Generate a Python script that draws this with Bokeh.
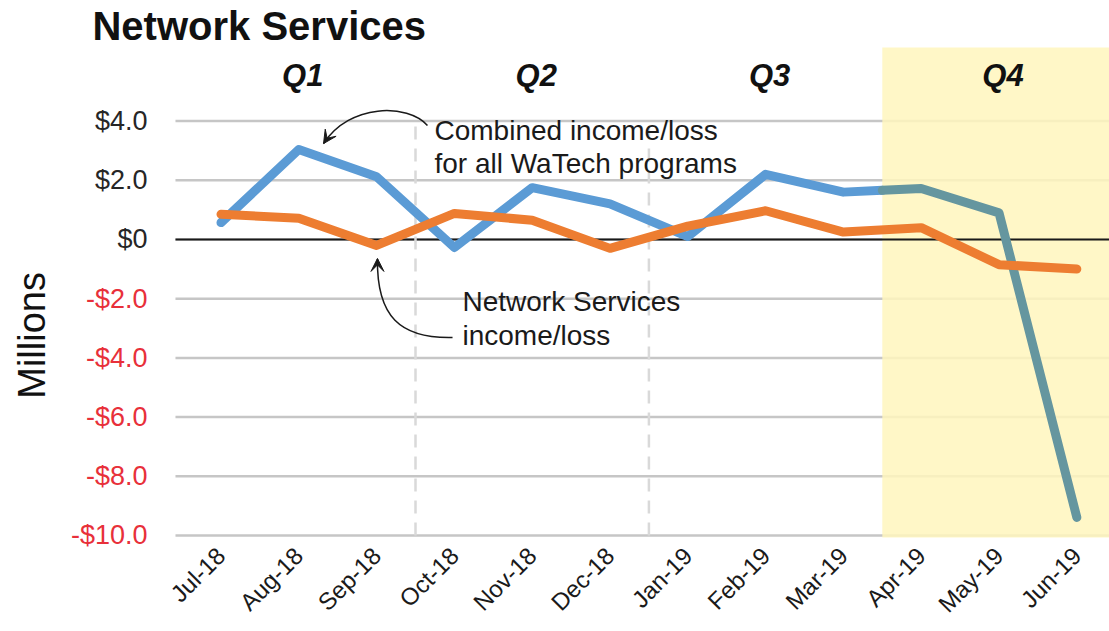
import numpy as np
from bokeh.plotting import figure
from bokeh.models import Range1d, FixedTicker, Arrow, VeeHead
from bokeh.core.properties import value
from bokeh.embed import file_html
from bokeh.resources import INLINE

# ---------------- data ----------------
months = ["Jul-18", "Aug-18", "Sep-18", "Oct-18", "Nov-18", "Dec-18",
          "Jan-19", "Feb-19", "Mar-19", "Apr-19", "May-19", "Jun-19"]
combined = [0.57, 3.04, 2.12, -0.27, 1.75, 1.2, 0.1, 2.2, 1.6, 1.72, 0.9, -9.39]
network = [0.85, 0.72, -0.2, 0.88, 0.65, -0.3, 0.45, 0.97, 0.25, 0.4, -0.85, -1.0]
quarters = ["Q1", "Q2", "Q3", "Q4"]
y_ticks = [-10, -8, -6, -4, -2, 0, 2, 4]
y_tick_labels = ["-$10.0", "-$8.0", "-$6.0", "-$4.0", "-$2.0", "$0", "$2.0", "$4.0"]

FONT = value("Liberation Sans")
x = np.arange(len(months))

X_START, X_END = -2.834, 11.42
Y_BOTTOM, Y_TOP = -10.845, 8.074
GRID_LEFT = -0.585      # left end of the plotting area
BAND_TOP = 6.486        # top of the highlighted quarter panel
BAND_BOTTOM = -10.07    # bottom of the plotting area

p = figure(width=1109, height=631, output_backend="svg", toolbar_location=None,
           x_range=Range1d(X_START, X_END), y_range=Range1d(Y_BOTTOM, Y_TOP),
           y_axis_location=None,
           min_border_left=0, min_border_right=0, min_border_top=0, min_border_bottom=71)
p.outline_line_color = None
p.background_fill_color = "white"
p.border_fill_color = "white"
p.xgrid.visible = False
p.ygrid.visible = False

# x axis
p.xaxis.ticker = FixedTicker(ticks=list(x))
p.xaxis.major_label_overrides = {int(i): m for i, m in zip(x, months)}
p.xaxis.major_label_orientation = np.pi / 4
p.xaxis.axis_line_color = None
p.xaxis.major_tick_line_color = None
p.xaxis.minor_tick_line_color = None
p.xaxis.major_tick_out = 0
p.xaxis.major_tick_in = 0
p.xaxis.major_label_standoff = -9
p.xaxis.major_label_text_font = "Liberation Sans"
p.xaxis.major_label_text_font_size = "24px"
p.xaxis.major_label_text_color = "#1a1a1a"

# horizontal grid lines
n = len(y_ticks)
p.segment(x0=[GRID_LEFT] * n, y0=y_ticks, x1=[X_END] * n, y1=y_ticks,
          line_color="#c6c6c6", line_width=2.5)

# Q4 highlight panel (over the grid so the grid looks faint there)
q_bounds = [3 * q - 0.5 for q in range(1, 4)]
p.quad(left=[q_bounds[-1]], right=[X_END], bottom=[BAND_BOTTOM], top=[BAND_TOP],
       fill_color="#fff6bd", fill_alpha=0.85, line_color=None)

# zero line
p.segment(x0=[GRID_LEFT], y0=[0], x1=[X_END], y1=[0], line_color="#1a1a1a", line_width=2)

# y tick labels (negative values in red)
tick_colors = ["#e8303a" if t < 0 else "#262626" for t in y_ticks]
p.text(x=[GRID_LEFT] * n, y=y_ticks, text=y_tick_labels, text_color=tick_colors,
       x_offset=-28, text_align="right", text_baseline="middle",
       text_font=FONT, text_font_size="27px")

# quarter dividers
p.segment(x0=q_bounds[:2], y0=[y_ticks[0]] * 2, x1=q_bounds[:2], y1=[y_ticks[-1]] * 2,
          line_color="#d9d9d9", line_width=2.5, line_dash="13 9")

# combined line (blue outside Q4, teal inside highlight)
split = q_bounds[-1]
ysplit = float(np.interp(split, x, combined))
n_pre = int(np.floor(split)) + 1
p.line(list(x[:n_pre]) + [split], combined[:n_pre] + [ysplit], line_color="#5b9bd5",
       line_width=9, line_join="round", line_cap="round")
p.line([split] + list(x[n_pre:]), [ysplit] + combined[n_pre:], line_color="#65969f",
       line_width=9, line_join="round", line_cap="round")
# network services line
p.line(x, network, line_color="#ed7d31", line_width=9, line_join="round", line_cap="round")

# quarter labels
q_centers = [3 * q + 1 for q in range(4)]
p.text(x=q_centers, y=[5.54] * 4, text=quarters, text_font=FONT,
       text_font_style="bold italic", text_font_size="31px", text_align="center",
       text_baseline="middle", x_offset=4, text_color="#111111")

# annotations
p.text(x=[2.744, 2.744], y=[3.68, 2.57],
       text=["Combined income/loss", "for all WaTech programs"],
       text_font=FONT, text_font_size="28px", text_color="#1a1a1a",
       text_baseline="middle")
p.text(x=[3.104, 3.104], y=[-2.11, -3.23],
       text=["Network Services", "income/loss"],
       text_font=FONT, text_font_size="28px", text_color="#1a1a1a",
       text_baseline="middle")

p.bezier(x0=[2.654, 2.976], y0=[3.85, -3.31], x1=[1.318, 2.011], y1=[3.24, -0.66],
         cx0=[2.4, 2.3], cy0=[4.6, -3.35], cx1=[1.65, 2.0], cy1=[4.6, -2.6],
         line_color="#1a1a1a", line_width=1.5)
p.add_layout(Arrow(end=VeeHead(size=13, fill_color="#1a1a1a", line_color="#1a1a1a"),
                   x_start=1.348, y_start=3.36, x_end=1.318, y_end=3.24, line_alpha=0))
p.add_layout(Arrow(end=VeeHead(size=13, fill_color="#1a1a1a", line_color="#1a1a1a"),
                   x_start=2.011, y_start=-0.9, x_end=2.011, y_end=-0.64, line_alpha=0))

# title and y-axis caption
p.text(x=[-1.652], y=[7.20], text=["Network Services"], text_font=FONT,
       text_font_size="40px", text_font_style="bold", text_color="#111111",
       text_baseline="middle")
p.text(x=[-2.423], y=[-3.24], text=["Millions"], text_font=FONT,
       text_font_size="38px", text_color="#111111", angle=np.pi / 2,
       text_align="center", text_baseline="middle")

open("out.html", "w").write(file_html(p, INLINE))
